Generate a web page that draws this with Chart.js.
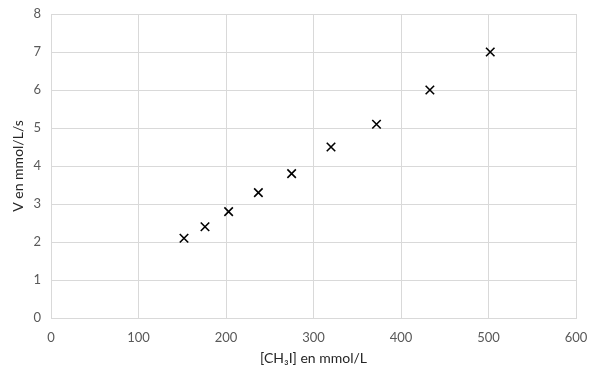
<!DOCTYPE html>
<html><head><meta charset="utf-8">
<script src="https://cdn.jsdelivr.net/npm/chart.js@4/dist/chart.umd.min.js"></script>
<style>html,body{margin:0;padding:0;background:#fff}#wrap{width:600px;height:380px}</style>
</head><body><div id="wrap"><canvas id="c" width="600" height="380"></canvas></div>
<script>
const concentrations = [152, 176, 203, 237, 275, 320, 372, 433, 502];
const rates = [2.1, 2.4, 2.8, 3.3, 3.8, 4.5, 5.1, 6.0, 7.0];
const xTitle = "[CH₃I] en mmol/L";
const yTitle = "V en mmol/L/s";

const points = concentrations.map((x, i) => ({x: x, y: rates[i]}));
const FONT = "Lato, 'Open Sans', sans-serif";

new Chart(document.getElementById('c'), {
  type: 'scatter',
  data: { datasets: [{
    data: points,
    pointStyle: 'crossRot',
    pointRadius: 6,
    pointHoverRadius: 6,
    borderColor: '#000',
    backgroundColor: '#000',
    borderWidth: 1.6,
    pointBorderWidth: 1.6
  }]},
  options: {
    responsive: false,
    animation: false,
    layout: { padding: { left: 10, right: 24, top: 14, bottom: 10 } },
    plugins: { legend: { display: false }, tooltip: { enabled: false } },
    scales: {
      x: {
        type: 'linear', min: 0, max: 600,
        ticks: { stepSize: 100, color: '#595959', font: { family: FONT, size: 13 }, padding: 12 },
        grid: { color: '#d9d9d9', lineWidth: 1, drawTicks: false },
        border: { color: '#d9d9d9' },
        title: { display: true, text: xTitle, color: '#262626', font: { family: FONT, size: 14 }, padding: { top: 4, bottom: 3 } },
        afterFit: s => { s.height = 52; s.paddingLeft = 0; s.paddingRight = 0; }
      },
      y: {
        type: 'linear', min: 0, max: 8,
        ticks: { stepSize: 1, color: '#595959', font: { family: FONT, size: 13 }, padding: 10 },
        grid: { color: '#d9d9d9', lineWidth: 1, drawTicks: false },
        border: { color: '#d9d9d9' },
        title: { display: true, text: yTitle, color: '#262626', font: { family: FONT, size: 14 }, padding: { top: 0, bottom: 4 } },
        afterFit: s => { s.width = 41; s.paddingTop = 0; s.paddingBottom = 0; }
      }
    }
  }
});
</script></body></html>
